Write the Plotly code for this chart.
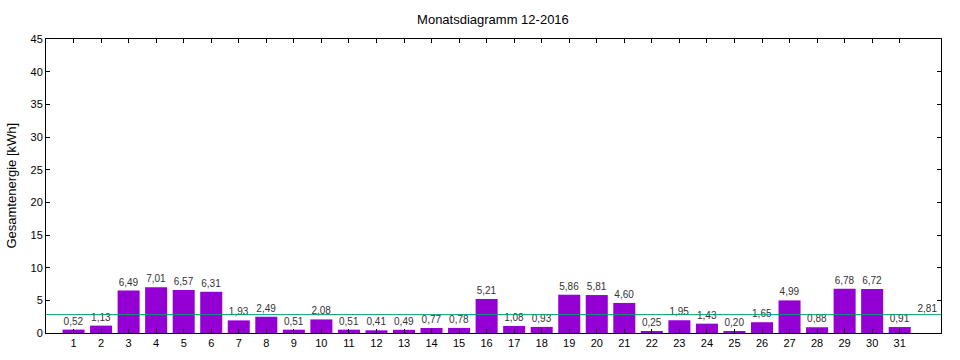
import plotly.graph_objects as go

days = list(range(1, 32))
energy = [0.52, 1.13, 6.49, 7.01, 6.57, 6.31, 1.93, 2.49, 0.51, 2.08,
          0.51, 0.41, 0.49, 0.77, 0.78, 5.21, 1.08, 0.93, 5.86, 5.81,
          4.60, 0.25, 1.95, 1.43, 0.20, 1.65, 4.99, 0.88, 6.78, 6.72, 0.91]
average = 2.81
title = "Monatsdiagramm 12-2016"
y_title = "Gesamtenergie [kWh]"
y_ticks = [0, 5, 10, 15, 20, 25, 30, 35, 40, 45]

def de(v):
    return f"{v:.2f}".replace(".", ",")

FONT = "Liberation Sans, Arial, sans-serif"

fig = go.Figure()
fig.add_trace(go.Bar(
    x=days, y=energy, width=0.8,
    marker=dict(color="#9400D3", line=dict(width=0)),
    text=[de(v) for v in energy], textposition="outside",
    textfont=dict(size=10, color="#333333", family=FONT),
    cliponaxis=False, hoverinfo="x+y",
))
fig.add_trace(go.Scatter(
    x=[32], y=[average], mode="text", text=[de(average)],
    textposition="top center",
    textfont=dict(size=10, color="#333333", family=FONT),
    hoverinfo="skip",
))
fig.add_shape(type="line", xref="paper", x0=0, x1=1, yref="y",
              y0=average, y1=average, line=dict(color="#009E73", width=1),
              layer="above")
fig.add_annotation(text=y_title, xref="paper", yref="paper", x=-0.0396, y=0.5,
                   xanchor="center", yanchor="middle", textangle=-90,
                   showarrow=False,
                   font=dict(size=13, family=FONT, color="#000000"))

fig.update_layout(
    width=960, height=360,
    margin=dict(l=46, r=19, t=39, b=27),
    paper_bgcolor="white", plot_bgcolor="white",
    showlegend=False,
    title=dict(text=title, x=0.5135, xanchor="center", y=0.947, yanchor="middle",
               font=dict(size=13, color="#000000", family=FONT)),
    font=dict(family=FONT, size=11, color="#000000"),
    uniformtext=dict(minsize=10, mode="show"),
)
fig.update_xaxes(
    range=[0, 32.5], tickvals=days, ticktext=[str(d) for d in days],
    ticks="inside", ticklen=4, tickcolor="black", tickwidth=1,
    showline=True, linecolor="black", linewidth=1, mirror="ticks",
    showgrid=False, zeroline=False, automargin=False,
    tickfont=dict(size=11, family=FONT, color="#000000"),
)
fig.update_yaxes(
    range=[0, 45], tickvals=y_ticks, ticks="inside", ticklen=4,
    tickcolor="black", tickwidth=1,
    showline=True, linecolor="black", linewidth=1, mirror="ticks",
    showgrid=False, zeroline=False, automargin=False,
    tickfont=dict(size=11, family=FONT, color="#000000"),
)

fig.write_html("out.html", config={"displayModeBar": False},
               post_script="document.body.style.margin='0';document.body.style.padding='0';")
